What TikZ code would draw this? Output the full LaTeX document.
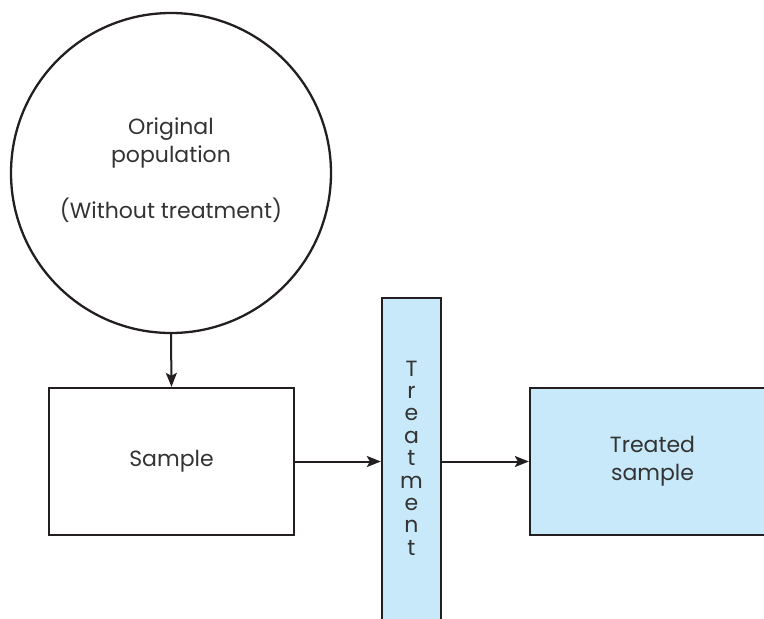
\documentclass[tikz,border=0pt]{standalone}
\usepackage{fontspec}
\setmainfont{Poppins}
\usetikzlibrary{arrows.meta}
\definecolor{edge}{HTML}{231F20}
\definecolor{txt}{HTML}{333333}
\definecolor{paleblue}{HTML}{C7E9F9}
\begin{document}
\begin{tikzpicture}[x=1pt,y=-1pt,
  box/.style={draw=edge,line width=2.3pt,rectangle,inner sep=0pt,text=txt,align=center,font=\fontsize{22}{28}\selectfont},
  conn/.style={draw=edge,line width=2pt,-{Stealth[length=14pt,width=11pt,inset=3pt]}},
  lbl/.style={text=txt,align=center,font=\fontsize{22}{28}\selectfont,inner sep=0pt}]
\useasboundingbox (0,0) rectangle (764,619);
\clip (0,0) rectangle (764,619);
\node[box,circle,minimum size=320pt] (pop) at (171,173) {};
\node[lbl] (poptext) at (171,170.5) {Original\\population\\[28pt](Without treatment)};
\node[box,minimum width=245pt,minimum height=147pt] (sample) at (171.5,461.5) {Sample};
\node[box,fill=paleblue,minimum width=59pt,minimum height=340pt] (bar) at (411.5,468) {};
\node[lbl,font=\fontsize{22}{22.4}\selectfont] (barlabel) at (411.5,458) {T\\r\\e\\a\\t\\m\\e\\n\\t};
\node[box,fill=paleblue,minimum width=245pt,minimum height=147pt] (treated) at (652.5,461.5) {Treated\\sample};
\draw[conn] (pop.south) -- (sample.north);
\draw[conn] (sample.east) -- (sample.east -| bar.west);
\draw[conn] (bar.east |- treated.west) -- (treated.west);
\end{tikzpicture}
\end{document}
